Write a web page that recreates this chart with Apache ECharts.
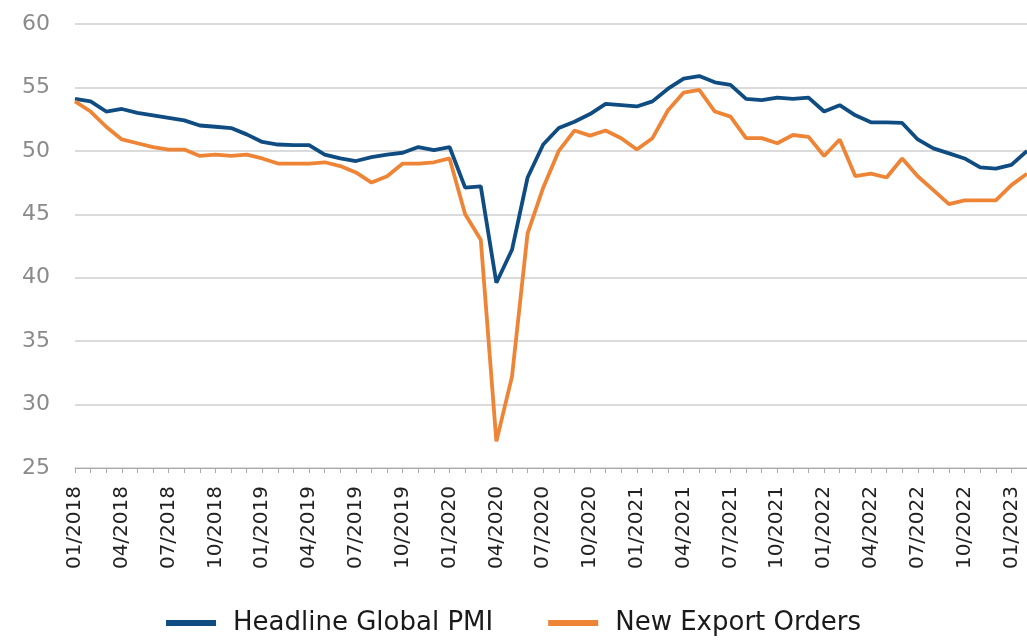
<!DOCTYPE html>
<html>
<head>
<meta charset="utf-8">
<title>Global PMI</title>
<script src="https://cdn.jsdelivr.net/npm/echarts@6/dist/echarts.min.js"></script>
<style>
  html, body { margin: 0; padding: 0; background: #fff; }
  #chart { width: 1027px; height: 641px; }
</style>
</head>
<body>
<div id="chart"></div>
<script>
// months 01/2018 .. 02/2023
var months = []
for (var y = 2018; y <= 2023; y++) {
  for (var m = 1; m <= 12; m++) {
    if (y === 2023 && m > 2) break
    months.push((m < 10 ? '0' + m : '' + m) + '/' + y)
  }
}

var headlinePMI = [
  54.1, 53.9, 53.1, 53.3, 53.0, 52.8, 52.6, 52.4, 52.0, 51.9, 51.8, 51.3,
  50.7, 50.5, 50.45, 50.45, 49.7, 49.4, 49.2, 49.5, 49.7, 49.85, 50.3, 50.05,
  50.3, 47.1, 47.2, 39.6, 42.2, 47.9, 50.5, 51.8, 52.3, 52.9, 53.7, 53.6,
  53.5, 53.9, 54.9, 55.7, 55.9, 55.4, 55.2, 54.1, 54.0, 54.2, 54.1, 54.2,
  53.1, 53.6, 52.8, 52.25, 52.25, 52.2, 50.9, 50.2, 49.8, 49.4, 48.7, 48.6,
  48.9, 50.0
]

var exportOrders = [
  53.9, 53.1, 51.9, 50.9, 50.6, 50.3, 50.1, 50.1, 49.6, 49.7, 49.6, 49.7,
  49.4, 49.0, 49.0, 49.0, 49.1, 48.8, 48.3, 47.5, 48.0, 49.0, 49.0, 49.1,
  49.4, 45.0, 43.0, 27.1, 32.2, 43.5, 47.1, 50.0, 51.6, 51.2, 51.6, 51.0,
  50.1, 51.0, 53.2, 54.6, 54.8, 53.1, 52.7, 51.0, 51.0, 50.6, 51.25, 51.1,
  49.6, 50.9, 48.0, 48.2, 47.9, 49.4, 48.0, 46.9, 45.8, 46.1, 46.1, 46.1,
  47.3, 48.2
]

var yTicks = { min: 25, max: 60, step: 5 }

var chart = echarts.init(document.getElementById('chart'))
chart.setOption({
  animation: false,
  textStyle: { fontFamily: 'DejaVu Sans, sans-serif' },
  grid: {
    left: 75,
    right: -5,
    top: 24,
    bottom: 173,
    containLabel: false
  },
  legend: {
    bottom: 0,
    left: 'center',
    itemWidth: 50,
    itemHeight: 6,
    itemGap: 55,
    icon: 'rect',
    textStyle: {
      fontSize: 26,
      color: '#1a1a1a',
      padding: [0, 0, 0, 12]
    },
    data: ['Headline Global PMI', 'New Export Orders']
  },
  xAxis: {
    type: 'category',
    data: months,
    boundaryGap: false,
    axisLine: { lineStyle: { color: '#aaa', width: 1 } },
    axisTick: {
      show: true,
      interval: 0,
      length: 5,
      lineStyle: { color: '#aaa' }
    },
    axisLabel: {
      interval: 2,
      rotate: 90,
      fontSize: 20,
      color: '#222',
      margin: 18
    },
    splitLine: { show: false }
  },
  yAxis: {
    type: 'value',
    min: yTicks.min,
    max: yTicks.max,
    interval: yTicks.step,
    axisLine: { show: false },
    axisTick: { show: false },
    axisLabel: {
      fontSize: 22,
      color: '#8a8a8a',
      margin: 25
    },
    splitLine: { lineStyle: { color: '#cfcfcf', width: 1.5 } }
  },
  series: [
    {
      name: 'Headline Global PMI',
      type: 'line',
      data: headlinePMI,
      showSymbol: false,
      smooth: false,
      color: '#0f4c81',
      lineStyle: { color: '#0f4c81', width: 3.8 }
    },
    {
      name: 'New Export Orders',
      type: 'line',
      data: exportOrders,
      showSymbol: false,
      smooth: false,
      color: '#ee8436',
      lineStyle: { color: '#ee8436', width: 3.8 }
    }
  ]
})
</script>
</body>
</html>
